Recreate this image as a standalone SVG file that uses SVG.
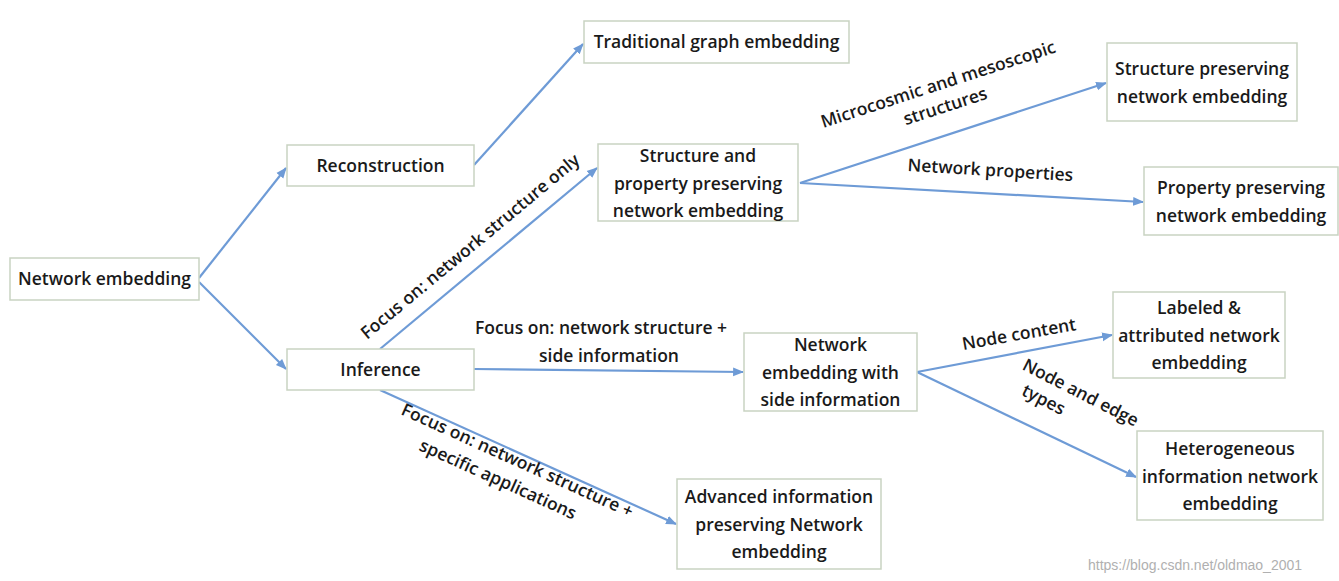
<svg xmlns="http://www.w3.org/2000/svg" width="1339" height="581" viewBox="0 0 1339 581">
<style>
.box{fill:#fff;stroke:#c9d3c2;stroke-width:1.5}
.t{font-family:"Open Sans","Liberation Sans",sans-serif;font-weight:600;font-size:17.5px;fill:#1a1a1a;text-anchor:middle}
.c{stroke:#6e9bd6;stroke-width:2.2;fill:none;marker-end:url(#a)}
.wm{font-family:"Liberation Sans",sans-serif;font-size:14px;fill:#b0b0b0}
</style>
<defs><marker id="a" viewBox="0 0 10 10" refX="9" refY="5" markerWidth="5" markerHeight="5" orient="auto"><path d="M0,1 L10,5 L0,9 z" fill="#6e9bd6"/></marker></defs>
<rect width="1339" height="581" fill="#fff"/>
<g id="connectors">
<line class="c" x1="199" y1="278" x2="286" y2="168"/>
<line class="c" x1="199" y1="282" x2="286" y2="369"/>
<line class="c" x1="474" y1="165" x2="583" y2="44"/>
<line class="c" x1="380" y1="349" x2="597" y2="168"/>
<line class="c" x1="474" y1="369" x2="743" y2="372"/>
<line class="c" x1="380" y1="390" x2="676" y2="524"/>
<line class="c" x1="800" y1="183" x2="1106" y2="83"/>
<line class="c" x1="800" y1="183" x2="1143" y2="202"/>
<line class="c" x1="917" y1="372" x2="1112" y2="335"/>
<line class="c" x1="917" y1="372" x2="1136" y2="477"/>
<g class="t">
<text transform="translate(474,251) rotate(-39.7)">Focus on: network structure only</text>
<text transform="translate(940,90) rotate(-18)"><tspan x="0" y="0">Microcosmic and mesoscopic</tspan><tspan x="0" y="23">structures</tspan></text>
<text transform="translate(990,176) rotate(3.5)">Network properties</text>
<text x="601" y="334">Focus on: network structure +</text>
<text x="609" y="362">side information</text>
<text transform="translate(1020,340) rotate(-10)">Node content</text>
<text transform="translate(1078,398) rotate(27)"><tspan x="0" y="0">Node and edge</tspan><tspan x="-30" y="23">types</tspan></text>
<text transform="translate(515,466) rotate(24.3)"><tspan x="0" y="0">Focus on: network structure +</tspan><tspan x="-10" y="25">specific applications</tspan></text>
</g>
</g>
<g id="n1"><rect class="box" x="10" y="258" width="189" height="42"/><text class="t" x="104.5" y="285">Network embedding</text></g>
<g id="n2"><rect class="box" x="287" y="145" width="187" height="41"/><text class="t" x="380.5" y="172">Reconstruction</text></g>
<g id="n3"><rect class="box" x="287" y="349" width="187" height="41"/><text class="t" x="380.5" y="376">Inference</text></g>
<g id="n4"><rect class="box" x="584" y="21" width="265" height="42"/><text class="t" x="716.5" y="48">Traditional graph embedding</text></g>
<g id="n5"><rect class="box" x="598" y="144" width="200" height="77"/><text class="t" x="698" y="162">Structure and</text><text class="t" x="698" y="190">property preserving</text><text class="t" x="698" y="217">network embedding</text></g>
<g id="n6"><rect class="box" x="744" y="333" width="173" height="78"/><text class="t" x="830.5" y="351">Network</text><text class="t" x="830.5" y="379">embedding with</text><text class="t" x="830.5" y="406">side information</text></g>
<g id="n7"><rect class="box" x="677" y="479" width="204" height="90"/><text class="t" x="779" y="503">Advanced information</text><text class="t" x="779" y="531">preserving Network</text><text class="t" x="779" y="558">embedding</text></g>
<g id="n8"><rect class="box" x="1107" y="43" width="190" height="78"/><text class="t" x="1202" y="75">Structure preserving</text><text class="t" x="1202" y="103">network embedding</text></g>
<g id="n9"><rect class="box" x="1144" y="167" width="194" height="68"/><text class="t" x="1241" y="194">Property preserving</text><text class="t" x="1241" y="222">network embedding</text></g>
<g id="n10"><rect class="box" x="1113" y="292" width="172" height="86"/><text class="t" x="1199" y="314">Labeled &amp;</text><text class="t" x="1199" y="342">attributed network</text><text class="t" x="1199" y="369">embedding</text></g>
<g id="n11"><rect class="box" x="1137" y="431" width="186" height="89"/><text class="t" x="1230" y="455">Heterogeneous</text><text class="t" x="1230" y="483">information network</text><text class="t" x="1230" y="510">embedding</text></g>
<text class="wm" x="1088" y="570">https://blog.csdn.net/oldmao_2001</text>
</svg>
